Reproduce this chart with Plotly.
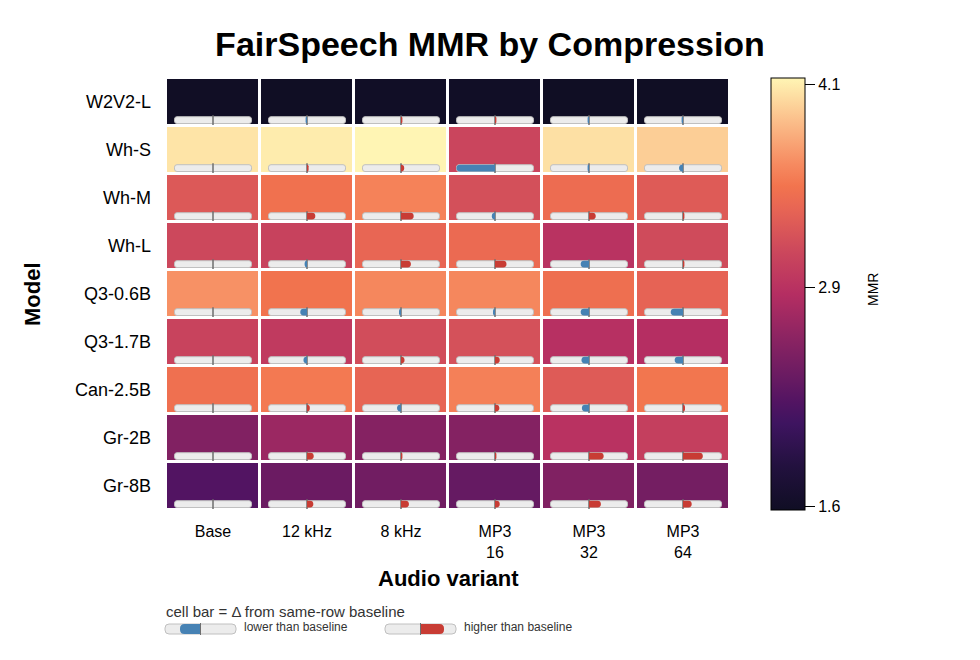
import plotly.graph_objects as go

# ---------------- data ----------------
models = ["W2V2-L", "Wh-S", "Wh-M", "Wh-L", "Q3-0.6B", "Q3-1.7B", "Can-2.5B", "Gr-2B", "Gr-8B"]
variants = ["Base", "12 kHz", "8 kHz", "MP3<br>16", "MP3<br>32", "MP3<br>64"]

mmr_base   = [1.59, 4.06, 3.26, 3.12, 3.66, 3.07, 3.46, 2.53, 2.22]
mmr_12khz  = [1.58, 4.10, 3.47, 3.06, 3.49, 2.98, 3.53, 2.70, 2.38]
mmr_8khz   = [1.60, 4.14, 3.58, 3.37, 3.61, 3.16, 3.36, 2.56, 2.42]
mmr_mp3_16 = [1.60, 3.09, 3.18, 3.41, 3.61, 3.19, 3.57, 2.55, 2.34]
mmr_mp3_32 = [1.58, 4.04, 3.43, 2.91, 3.45, 2.88, 3.28, 2.90, 2.52]
mmr_mp3_64 = [1.58, 3.96, 3.28, 3.14, 3.35, 2.86, 3.51, 3.03, 2.44]

cbar_ticks = [1.6, 2.9, 4.1]
cbar_ticktext = ["1.6", "2.9", "4.1"]

columns = [mmr_base, mmr_12khz, mmr_8khz, mmr_mp3_16, mmr_mp3_32, mmr_mp3_64]
z = [[columns[c][r] for c in range(len(columns))] for r in range(len(models))]
zmin = min(min(col) for col in columns)
zmax = max(max(col) for col in columns)

# ---------------- layout constants ----------------
OFF = 8                     # page body margin of the html page
W, H = 980 - OFF, 660 - OFF
ML, MT = 166 - OFF, 78 - OFF
PW, PH = 564, 432
MR, MB = W - ML - PW, H - MT - PH
PXX = PW / len(variants)   # px per column
PXY = PH / len(models)     # px per row

colorscale = [
    [0.00, "#100e24"], [0.10, "#22113e"], [0.20, "#3e1460"], [0.25, "#521462"],
    [0.30, "#661a62"], [0.40, "#8c2462"], [0.50, "#b52e62"], [0.60, "#cc485c"],
    [0.70, "#e86654"], [0.75, "#f2744e"], [0.80, "#f68a60"], [0.90, "#fbbe8a"],
    [1.00, "#fff5b4"],
]

BLUE = "#4682b4"
RED = "#c83c34"
TRACK_FILL = "#ececec"
TRACK_LINE = "#c0c0c0"
MID_LINE = "#6e6e6e"


def rr_path(tx, ty, x0, x1, y0, y1, rl, rr):
    """Rounded rectangle path; coordinates in px, converted with tx/ty."""
    return (
        f"M {tx(x0 + rl)},{ty(y0)} L {tx(x1 - rr)},{ty(y0)} "
        f"Q {tx(x1)},{ty(y0)} {tx(x1)},{ty(y0 + rr)} "
        f"L {tx(x1)},{ty(y1 - rr)} Q {tx(x1)},{ty(y1)} {tx(x1 - rr)},{ty(y1)} "
        f"L {tx(x0 + rl)},{ty(y1)} Q {tx(x0)},{ty(y1)} {tx(x0)},{ty(y1 - rl)} "
        f"L {tx(x0)},{ty(y0 + rl)} Q {tx(x0)},{ty(y0)} {tx(x0 + rl)},{ty(y0)} Z"
    )


shapes = []
HALF = 38.5      # half track length, px
HH = 3.4         # half track height, px
deltas = [[z[r][c] - z[r][0] for c in range(len(variants))] for r in range(len(models))]
max_abs = max(abs(d) for row in deltas for d in row)

for r in range(len(models)):
    yc = r + 0.5 - 5.9 / PXY
    for c in range(len(variants)):
        tx = (lambda i: (lambda p: i + p / PXX))(c)
        ty = (lambda y: (lambda p: y + p / PXY))(yc)
        shapes.append(dict(type="path", xref="x", yref="y", layer="above",
                           path=rr_path(tx, ty, -HALF, HALF, -HH, HH, 2.5, 2.5),
                           fillcolor=TRACK_FILL, line=dict(color=TRACK_LINE, width=1)))
        shapes.append(dict(type="line", xref="x", yref="y", layer="above",
                           x0=c, x1=c, y0=ty(-4.8), y1=ty(4.8),
                           line=dict(color=MID_LINE, width=1.5)))
        d = deltas[r][c]
        if c > 0 and abs(d) > 1e-9:
            L = max(abs(d) / max_abs * HALF, 1.4)
            rad = min(HH, L)
            if d > 0:
                p = rr_path(tx, ty, 0, L, -HH, HH, 0, rad)
                col = RED
            else:
                p = rr_path(tx, ty, -L, 0, -HH, HH, rad, 0)
                col = BLUE
            shapes.append(dict(type="path", xref="x", yref="y", layer="above",
                               path=p, fillcolor=col, line=dict(width=0)))

# ---------------- legend (below plot); positions given in window px ----------------
ptx = lambda p: (p - OFF - ML) / PW
pty = lambda p: (OFF + MT + PH - p) / PH


def legend_sample(x0, x1, lo, hi, color, left_round):
    yc0, hh = 629, 5
    out = [dict(type="path", xref="paper", yref="paper", layer="above",
                path=rr_path(ptx, lambda p: pty(yc0 + p), x0, x1, -hh, hh, 4, 4),
                fillcolor=TRACK_FILL, line=dict(color=TRACK_LINE, width=1))]
    rl, rr = (4.5, 0) if left_round else (0, 4.5)
    out.append(dict(type="path", xref="paper", yref="paper", layer="above",
                    path=rr_path(ptx, lambda p: pty(yc0 + p), lo, hi, -hh, hh, rl, rr),
                    fillcolor=color, line=dict(width=0)))
    mid = (x0 + x1) / 2
    out.append(dict(type="line", xref="paper", yref="paper", layer="above",
                    x0=ptx(mid), x1=ptx(mid), y0=pty(yc0 - 6), y1=pty(yc0 + 6),
                    line=dict(color=MID_LINE, width=1)))
    return out


shapes += legend_sample(165, 236, 180, 200.5, BLUE, True)
shapes += legend_sample(385, 456, 420.5, 444, RED, False)

annotations = [
    dict(text="<b>Model</b>", x=ptx(32), y=0.5, xref="paper", yref="paper",
         textangle=-90, showarrow=False, font=dict(size=22, color="black"),
         xanchor="center", yanchor="middle"),
    dict(text="<b>Audio variant</b>", x=0.5, y=pty(578), xref="paper", yref="paper",
         showarrow=False, font=dict(size=22, color="black"),
         xanchor="center", yanchor="middle"),
    dict(text="MMR", x=ptx(873), y=pty(290), xref="paper", yref="paper",
         textangle=-90, showarrow=False, font=dict(size=14, color="black"),
         xanchor="center", yanchor="middle"),
    dict(text="cell bar = Δ from same-row baseline", x=ptx(164), y=pty(611),
         xref="paper", yref="paper", showarrow=False, xanchor="left", yanchor="middle",
         font=dict(size=15, color="#333333")),
    dict(text="lower than baseline", x=ptx(242), y=pty(627), xref="paper", yref="paper",
         showarrow=False, xanchor="left", yanchor="middle",
         font=dict(size=12, color="#333333")),
    dict(text="higher than baseline", x=ptx(462), y=pty(627), xref="paper", yref="paper",
         showarrow=False, xanchor="left", yanchor="middle",
         font=dict(size=12, color="#333333")),
]

fig = go.Figure(go.Heatmap(
    z=z, x=list(range(len(variants))), y=list(range(len(models))),
    colorscale=colorscale, zmin=zmin, zmax=zmax,
    xgap=3, ygap=3,
    hovertemplate="%{z:.2f}<extra></extra>",
    colorbar=dict(
        tickvals=cbar_ticks, ticktext=cbar_ticktext,
        ticks="outside", ticklen=10, tickwidth=1, tickcolor="black",
        tickfont=dict(size=16, color="black"),
        thickness=34, len=1, lenmode="fraction", y=0.5, yanchor="middle", ypad=0,
        x=ptx(771), xanchor="left", xpad=0,
        outlinewidth=1, outlinecolor="black",
    ),
))

fig.update_layout(
    width=W, height=H,
    margin=dict(l=ML, r=MR, t=MT, b=MB, autoexpand=False),
    paper_bgcolor="white", plot_bgcolor="white",
    font=dict(family="Liberation Sans, Arial, sans-serif", color="black"),
    title=dict(text="<b>FairSpeech MMR by Compression</b>", x=ptx(490), xref="paper",
               xanchor="center", y=1 - (44 - OFF) / H, yanchor="middle",
               font=dict(size=34, color="black")),
    xaxis=dict(range=[-0.5, len(variants) - 0.5], tickvals=list(range(len(variants))),
               ticktext=variants, showgrid=False, zeroline=False, showline=False,
               ticks="", tickfont=dict(size=16), ticklabelstandoff=10, fixedrange=True),
    yaxis=dict(range=[len(models) - 0.5, -0.5], tickvals=list(range(len(models))),
               ticktext=models, showgrid=False, zeroline=False, showline=False,
               ticks="", tickfont=dict(size=18), ticklabelstandoff=14, fixedrange=True),
    shapes=shapes,
    annotations=annotations,
)

fig.write_html("out.html")
